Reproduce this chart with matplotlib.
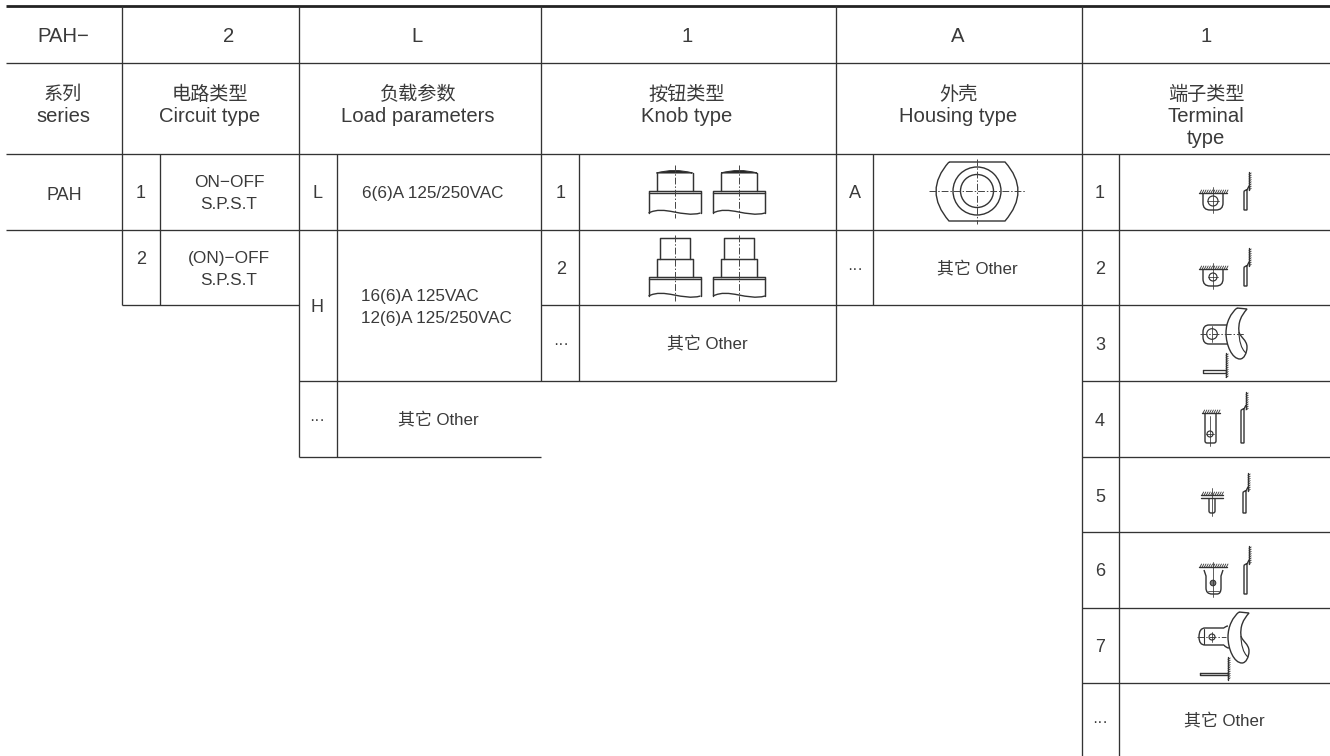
import numpy as np
import matplotlib
matplotlib.use("Agg")
import matplotlib.pyplot as plt
from matplotlib.path import Path
from matplotlib.patches import PathPatch, Circle

plt.rcParams['font.family'] = ['Liberation Sans', 'Noto Sans CJK SC', 'DejaVu Sans']

# ---------- content ----------
code_row = ['PAH\u2212', '2', 'L', '1', 'A', '1']
head_row = [['系列', 'series'], ['电路类型', 'Circuit type'], ['负载参数', 'Load parameters'],
            ['按钮类型', 'Knob type'], ['外壳', 'Housing type'], ['端子类型', 'Terminal', 'type']]
series_name = 'PAH'
circuit_codes = ['1', '2']
circuit_text = [['ON\u2212OFF', 'S.P.S.T'], ['(ON)\u2212OFF', 'S.P.S.T']]
load_codes = ['L', 'H', '···']
load_text_l = '6(6)A 125/250VAC'
load_text_h = ['16(6)A 125VAC', '12(6)A 125/250VAC']
knob_codes = ['1', '2', '···']
housing_codes = ['A', '···']
terminal_codes = ['1', '2', '3', '4', '5', '6', '7', '···']
other = '其它 Other'

# ---------- layout ----------
INK = '#333333'
TXT = '#3a3a3a'
LW = 0.95
BIG = 14.6
CJK = 13.8
MID = 13.0
SM = 12.4
OTH = 12.2
DOT = 11.5

fig = plt.figure(figsize=(13.3, 7.56), dpi=100, facecolor='white')
ax = fig.add_axes([0, 0, 1, 1])
ax.set_xlim(0, 1330)
ax.set_ylim(756, 0)
ax.axis('off')

h_rules = [(63, 6, 1330), (154, 6, 1330), (230, 6, 1330),
           (305, 122, 299), (305, 541, 1330), (381, 299, 836), (381, 1082, 1330),
           (457, 299, 541), (457, 1082, 1330), (532, 1082, 1330),
           (608, 1082, 1330), (683, 1082, 1330)]
v_rules = [(122, 6, 305), (160, 154, 305), (299, 6, 457), (337, 154, 457),
           (541, 6, 381), (579, 154, 381), (836, 6, 381), (873, 154, 305),
           (1082, 6, 756), (1119, 154, 756)]
ax.plot([6, 1330], [6, 6], color='#222222', lw=2.0, solid_capstyle='butt')
for y, a, b in h_rules:
    ax.plot([a, b], [y, y], color=INK, lw=LW, solid_capstyle='butt')
for x, a, b in v_rules:
    ax.plot([x, x], [a, b], color=INK, lw=LW, solid_capstyle='butt')


def T(x, y, s, size=MID, ha='center'):
    if s == '···':
        size = DOT
    ax.text(x, y, s, ha=ha, va='center_baseline', fontsize=size, color=TXT)


def block(x, yc, lines, gap, size, ha='center'):
    n = len(lines)
    for i, s in enumerate(lines):
        T(x, yc + (i - (n - 1) / 2) * gap, s, size, ha)


code_x = [63, 229, 417, 687, 958, 1206]
head_x = [63, 210, 418, 687, 958, 1206]
for x, s in zip(code_x, code_row):
    T(x, 35, s, BIG)
for x, lines in zip(head_x, head_row):
    top = 93
    for i, s in enumerate(lines):
        T(x, top + i * 22, s, CJK if i == 0 else BIG)

T(64, 193, series_name)
for y, c in zip([192, 258], circuit_codes):
    T(141, y, c)
for yc, lines in zip([192, 268], circuit_text):
    block(229, yc, lines, 22, SM)
for y, c in zip([192, 306, 419], load_codes):
    T(317, y, c)
T(433, 192, load_text_l, 12.35)
block(361, 306, load_text_h, 22, 12.35, ha='left')
T(438, 419, other, OTH)
for y, c in zip([192, 268, 343], knob_codes):
    T(561, y, c)
T(707, 343, other, OTH)
for y, c in zip([192, 268], housing_codes):
    T(855, y, c)
T(977, 268, other, OTH)
for y, c in zip([192, 268, 343, 419, 495, 570, 646, 721], terminal_codes):
    T(1100, y, c)
T(1224, 720, other, OTH)

C3 = Path.CURVE3
C4 = Path.CURVE4
M = Path.MOVETO
L = Path.LINETO


# ---------- line-art helpers ----------
def line(xs, ys, lw=1.0, color=INK):
    ax.plot(xs, ys, color=color, lw=lw, solid_capstyle='round')


def center(xs, ys):
    ax.plot(xs, ys, color='#444444', lw=0.7, ls=(0, (7, 2, 1.5, 2)))


def curve(verts, codes, lw=1.0, fc='none'):
    ax.add_patch(PathPatch(Path(verts, codes), fc=fc, ec=INK, lw=lw))


def hatch_h(x0, x1, y):
    line([x0, x1], [y, y], 1.0)
    for x in np.arange(x0 + 1, x1, 2.2):
        line([x, x + 1.6], [y, y - 3], 0.6)


def hatch_v(x, y0, y1):
    line([x, x], [y0, y1], 1.0)
    for y in np.arange(y0 + 1, y1, 2.2):
        line([x, x + 2.2], [y + 1.5, y], 0.6)


def knob_base(cx, ytop, ybot):
    hw = 26
    line([cx - hw, cx - hw, cx + hw, cx + hw], [ybot, ytop, ytop, ybot], 1.05)
    line([cx - hw, cx + hw], [ytop + 2, ytop + 2], 1.0)
    curve([(cx - hw, ybot), (cx - 10, ybot - 8), (cx + 8, ybot + 5), (cx + hw, ybot)],
          [M, C4, C4, C4], 1.0)


def knob1(cx):
    knob_base(cx, 191, 213)
    line([cx - 18, cx - 18], [173, 191], 1.05)
    line([cx + 18, cx + 18], [173, 191], 1.05)
    curve([(cx - 18, 173), (cx, 168), (cx + 18, 173), (cx - 18, 173)],
          [M, C3, C3, L], 0.8, fc='#222222')
    center([cx, cx], [165, 218])


def knob2(cx):
    knob_base(cx, 277, 296)
    line([cx - 15, cx - 15, cx + 15, cx + 15], [259, 238, 238, 259], 1.05)
    line([cx - 18, cx - 18, cx + 18, cx + 18], [277, 259, 259, 277], 1.05)
    center([cx, cx], [235, 301])


for cx in [674.5, 739]:
    knob1(cx)
    knob2(cx)


def housing(cx, cy):
    curve([(cx - 28, cy - 29), (cx + 28, cy - 29), (cx + 54, cy), (cx + 28, cy + 30),
           (cx - 28, cy + 30), (cx - 54, cy), (cx - 28, cy - 29)],
          [M, L, C3, C3, L, C3, C3], 1.0)
    ax.add_patch(Circle((cx, cy), 24, fc='none', ec=INK, lw=1.0))
    ax.add_patch(Circle((cx, cy), 16.5, fc='none', ec=INK, lw=1.0))
    center([cx - 48, cx + 48], [cy, cy])
    center([cx, cx], [cy - 32, cy + 33])


housing(977, 191)


def hole(x, y, r, fill='none'):
    ax.add_patch(Circle((x, y), r, fc=fill, ec=INK, lw=0.85))
    line([x - r - 1, x + r + 1], [y, y], 0.55)


def side(xh, y0, yjoin, xa, xb, y1):
    hatch_v(xh, y0, yjoin)
    curve([(xh, yjoin - 4), (xb, yjoin), (xb, y1), (xa, y1), (xa, yjoin + 2), (xa, yjoin), (xb, yjoin)],
          [M, L, L, L, L, C3, C3], 1.0)


def cup(xl, xr, ytop, ybot, rr=6):
    curve([(xl, ytop), (xl, ybot - rr), (xl, ybot), (xl + rr, ybot), (xr - rr, ybot), (xr, ybot),
           (xr, ybot - rr), (xr, ytop)],
          [M, L, C3, C3, L, C3, C3, L], 1.0)


def crescent(dx, dy):
    pts = [(1237, 308), (1247, 309),
           (1241, 316), (1238, 322), (1239, 332),
           (1240, 337), (1247, 340), (1247, 347),
           (1247, 353), (1244, 359), (1240, 359),
           (1232, 359), (1226, 345), (1226, 333),
           (1226, 322), (1231, 313), (1237, 308)]
    codes = [M, L] + [C4] * 15
    curve([(x + dx, y + dy) for x, y in pts], codes, 1.0)
    tw = [(1239, 332), (1239, 340), (1241, 349), (1246, 353)]
    curve([(x + dx, y + dy) for x, y in tw], [M, C4, C4, C4], 0.8)


# 1
hatch_h(1199, 1227, 193)
cup(1203, 1223, 193, 210, 7)
hole(1213, 201, 5)
line([1213, 1213], [187, 213], 0.55)
side(1249, 172, 190, 1244, 1247, 210)
# 2
hatch_h(1199, 1227, 269)
cup(1203, 1223, 269, 286, 7)
hole(1213, 277, 4)
line([1213, 1213], [263, 289], 0.55)
side(1249, 248, 266, 1244, 1247, 286)
# 3
curve([(1227, 325), (1209, 325), (1203, 325), (1203, 332), (1203, 337), (1203, 344), (1209, 344), (1228, 344)],
      [M, L, C3, C3, L, C3, C3, L], 1.0)
crescent(0, 0)
ax.add_patch(Circle((1212, 334), 5.3, fc='none', ec=INK, lw=0.85))
center([1200, 1244], [334, 334])
line([1212, 1212], [326, 342], 0.55)
hatch_v(1226, 353, 377)
line([1203, 1226, 1226, 1203, 1203], [370, 370, 372.5, 372.5, 370], 0.95)
# 4
hatch_h(1202, 1220, 413)
cup(1205, 1216, 413, 443, 2)
hole(1210, 434, 3)
line([1210, 1210], [416, 446], 0.55)
side(1246, 392, 409, 1241, 1244, 443)
# 5
hatch_h(1201, 1223, 495)
line([1201, 1223], [498, 498], 1.0)
cup(1209, 1215, 498, 513, 2)
line([1212, 1212], [488, 516], 0.55)
side(1248, 473, 491, 1243, 1246, 513)
# 6
hatch_h(1199, 1227, 567)
curve([(1204, 570), (1206, 576), (1206, 588), (1206, 594), (1212, 594), (1217, 594), (1221, 594), (1221, 588),
       (1221, 576), (1223, 570)],
      [M, L, L, C3, C3, L, C3, C3, L, L], 1.0)
line([1208, 1219], [591, 591], 0.55)
ax.add_patch(Circle((1213, 583), 2.8, fc='#777777', ec=INK, lw=0.75))
line([1213, 1213], [562, 597], 0.55)
side(1249, 546, 564, 1244, 1247, 594)
# 7
curve([(1224, 628), (1205, 628), (1199, 628), (1199, 637), (1199, 645), (1205, 645), (1224, 645)],
      [M, L, C3, C3, C3, C3, L], 1.0)
curve([(1224, 628), (1226, 626), (1228, 626)], [M, C3, C3], 1.0)
curve([(1224, 645), (1226, 648), (1229, 648)], [M, C3, C3], 1.0)
line([1204, 1204], [629, 644], 0.8)
crescent(2, 304)
ax.add_patch(Circle((1212, 637), 3, fc='none', ec=INK, lw=0.85))
center([1197, 1226], [637, 637])
line([1212, 1212], [632, 642], 0.55)
hatch_v(1228, 657, 680)
line([1200, 1228, 1228, 1200, 1200], [672.5, 672.5, 675, 675, 672.5], 1.0)

fig.savefig('out.png', dpi=100, facecolor='white')
